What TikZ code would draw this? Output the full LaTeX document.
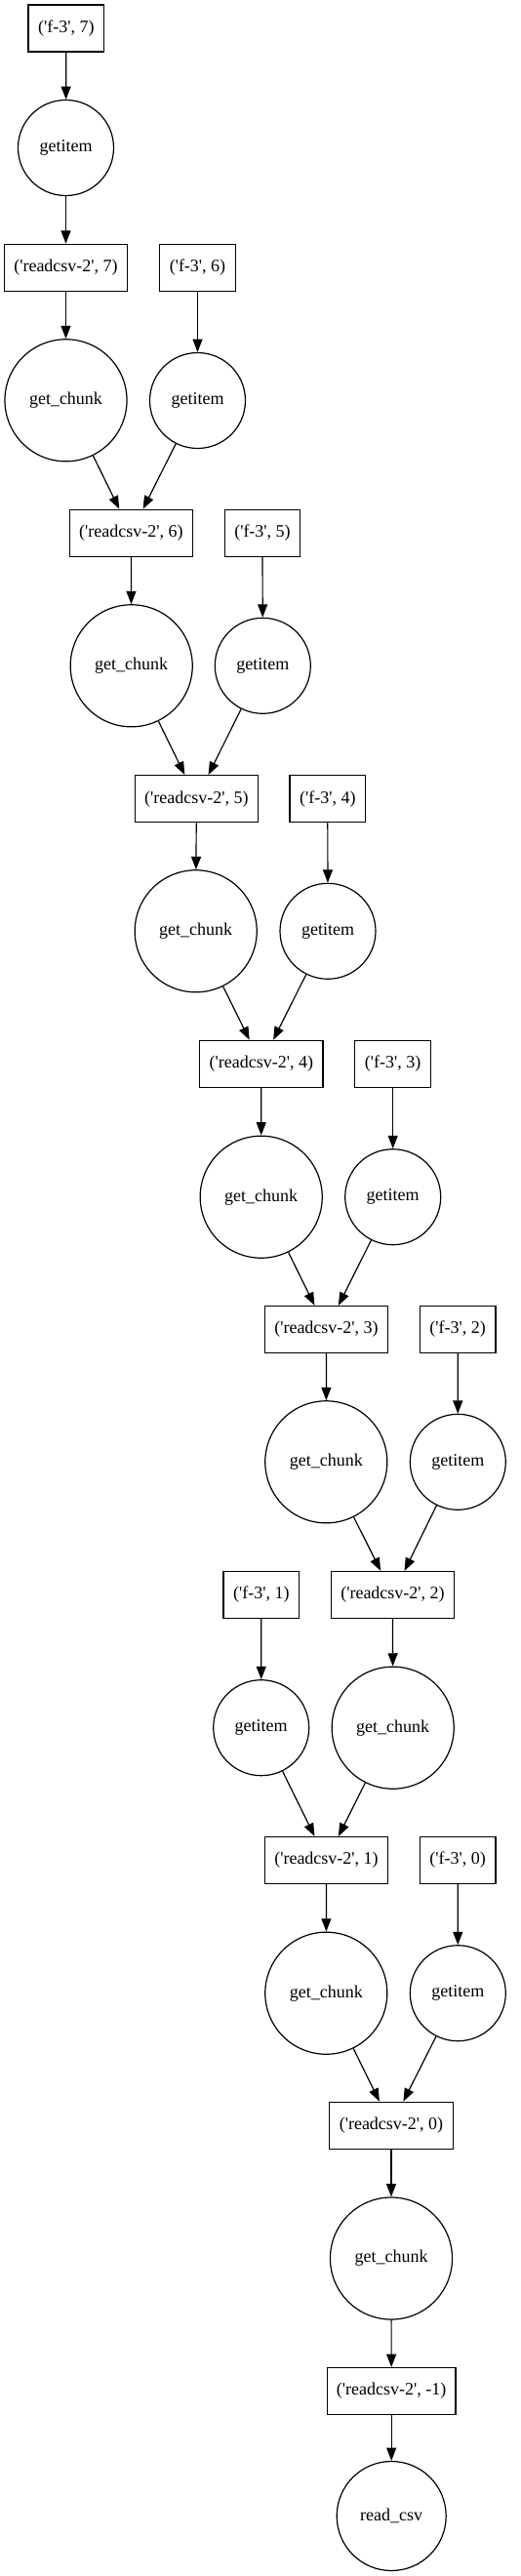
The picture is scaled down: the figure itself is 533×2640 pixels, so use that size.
\documentclass[tikz,border=0pt]{standalone}
\usepackage{fontspec}
\setmainfont{Liberation Serif}[Ligatures=TeXOff]
\usepackage{tikz}
\usetikzlibrary{arrows.meta}

\tikzset{
  key/.style={draw, rectangle, line width=0.9pt, minimum height=36pt, inner sep=0pt, font=\fontsize{13.5}{16}\selectfont},
  fkey/.style={key, minimum width=58.3pt},
  rkey/.style={key, minimum width=94.8pt},
  rkeywide/.style={key, minimum width=98.8pt},
  task/.style={draw, circle, line width=0.9pt, inner sep=0pt, font=\fontsize{13.5}{16}\selectfont},
  itemtask/.style={task, minimum size=73.5pt},
  chunktask/.style={task, minimum size=93.8pt},
  csvtask/.style={task, minimum size=84pt},
  dep/.style={-{Triangle[length=10pt,width=7.5pt]}, line width=0.9pt}
}

\begin{document}
\begin{tikzpicture}[x=0.75pt,y=0.75pt,yscale=-1,xscale=1]
\useasboundingbox (0,0) rectangle (533,2640);

% keys of f-3
\node [fkey] (f7) at (67.8,29) {('f-3', 7)};
\node [fkey] (f6) at (202.5,274.3) {('f-3', 6)};
\node [fkey] (f5) at (269,546.2) {('f-3', 5)};
\node [fkey] (f4) at (335.8,818.7) {('f-3', 4)};
\node [fkey] (f3) at (402.7,1090.3) {('f-3', 3)};
\node [fkey] (f2) at (469.2,1362.5) {('f-3', 2)};
\node [fkey] (f1) at (267.8,1634.5) {('f-3', 1)};
\node [fkey] (f0) at (469.2,1906.5) {('f-3', 0)};

% getitem tasks
\node [itemtask] (g7) at (67.5,151.5) {getitem};
\node [itemtask] (g6) at (202.5,410.5) {getitem};
\node [itemtask] (g5) at (269.3,682.3) {getitem};
\node [itemtask] (g4) at (336,954.3) {getitem};
\node [itemtask] (g3) at (402.7,1226.7) {getitem};
\node [itemtask] (g2) at (469.3,1498.3) {getitem};
\node [itemtask] (g1) at (267.7,1770.7) {getitem};
\node [itemtask] (g0) at (469.3,2042.7) {getitem};

% keys of readcsv-2
\node [rkey] (rc7) at (67.5,274.3) {('readcsv-2', 7)};
\node [rkey] (rc6) at (134.3,546.2) {('readcsv-2', 6)};
\node [rkey] (rc5) at (201.3,818.7) {('readcsv-2', 5)};
\node [rkey] (rc4) at (267.8,1090.3) {('readcsv-2', 4)};
\node [rkey] (rc3) at (334.5,1362.5) {('readcsv-2', 3)};
\node [rkey] (rc2) at (402.5,1634.5) {('readcsv-2', 2)};
\node [rkey] (rc1) at (334.5,1906.5) {('readcsv-2', 1)};
\node [rkey] (rc0) at (401,2178.2) {('readcsv-2', 0)};
\node [rkeywide] (rcm) at (401.2,2450.5) {('readcsv-2', -1)};

% get_chunk tasks
\node [chunktask] (gc7) at (67.5,410.3) {get\_chunk};
\node [chunktask] (gc6) at (134.7,682.3) {get\_chunk};
\node [chunktask] (gc5) at (200.7,954.3) {get\_chunk};
\node [chunktask] (gc4) at (267.7,1226.7) {get\_chunk};
\node [chunktask] (gc3) at (334.3,1498.3) {get\_chunk};
\node [chunktask] (gc2) at (402.7,1770.7) {get\_chunk};
\node [chunktask] (gc1) at (334.3,2042.7) {get\_chunk};
\node [chunktask] (gc0) at (401,2314.5) {get\_chunk};

% read_csv task
\node [csvtask] (csv) at (401.2,2578.5) {read\_csv};

% edges
\draw [dep] (f7) -- (g7);
\draw [dep] (g7) -- (rc7);
\draw [dep] (rc7) -- (gc7);
\draw [dep] (gc7) -- (rc6);
\draw [dep] (f6) -- (g6);
\draw [dep] (g6) -- (rc6);
\draw [dep] (rc6) -- (gc6);
\draw [dep] (gc6) -- (rc5);
\draw [dep] (f5) -- (g5);
\draw [dep] (g5) -- (rc5);
\draw [dep] (rc5) -- (gc5);
\draw [dep] (gc5) -- (rc4);
\draw [dep] (f4) -- (g4);
\draw [dep] (g4) -- (rc4);
\draw [dep] (rc4) -- (gc4);
\draw [dep] (gc4) -- (rc3);
\draw [dep] (f3) -- (g3);
\draw [dep] (g3) -- (rc3);
\draw [dep] (rc3) -- (gc3);
\draw [dep] (gc3) -- (rc2);
\draw [dep] (f2) -- (g2);
\draw [dep] (g2) -- (rc2);
\draw [dep] (rc2) -- (gc2);
\draw [dep] (gc2) -- (rc1);
\draw [dep] (f1) -- (g1);
\draw [dep] (g1) -- (rc1);
\draw [dep] (rc1) -- (gc1);
\draw [dep] (gc1) -- (rc0);
\draw [dep] (f0) -- (g0);
\draw [dep] (g0) -- (rc0);
\draw [dep] (rc0) -- (gc0);
\draw [dep] (gc0) -- (rcm);
\draw [dep] (rcm) -- (csv);
\end{tikzpicture}
\end{document}
